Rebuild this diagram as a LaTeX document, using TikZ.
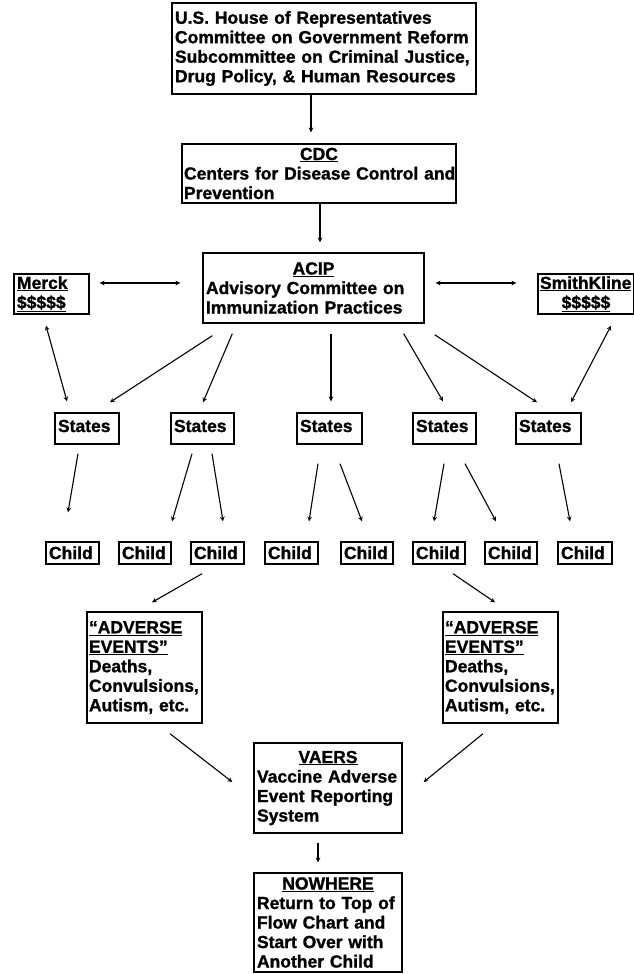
\documentclass[tikz,border=0pt]{standalone}
\usepackage{fontspec}
\setmainfont{Liberation Sans}[BoldFeatures={FakeBold=1.2}]
\usetikzlibrary{calc}

\begin{document}
\begin{tikzpicture}[x=1pt,y=-1pt,
        box/.style={draw,line width=1.4pt,inner xsep=3pt,inner ysep=0pt,align=left,
            font=\fontsize{17.5}{19.5}\selectfont\bfseries},
        small/.style={box,inner ysep=3pt,text depth=#1},
        arr/.style={-stealth,line width=1.1pt},
        dbl/.style={stealth-stealth,line width=1.1pt}]
        \useasboundingbox (0,0) rectangle (634,974);
        %catena in alto
        \node[box,minimum width=304pt,minimum height=91pt,text width=298pt] (house) at (324,48.5)
            {U.S. House of Representatives\\Committee on Government Reform\\Subcommittee on Criminal Justice,\\Drug Policy, \& Human Resources};
        \node[box,inner xsep=2pt,minimum width=274pt,minimum height=59pt,text width=270pt] (cdc) at (319,173.5)
            {\makebox[\linewidth]{\underline{CDC}}\\\mbox{Centers for Disease Control and}\\Prevention};
        \node[box,minimum width=221pt,minimum height=70pt,text width=215pt] (acip) at (313.5,288)
            {\makebox[\linewidth]{\underline{ACIP}}\\Advisory Committee on\\Immunization Practices};
        \node[box,minimum width=75pt,minimum height=40pt,text width=69pt] (merck) at (51.5,294)
            {\underline{Merck}\\\underline{\$\$\$\$\$}};
        \node[box,inner xsep=2pt,minimum width=96pt,minimum height=40pt,text width=92pt] (smith) at (586,294)
            {\underline{SmithKline}\\\makebox[\linewidth]{\underline{\$\$\$\$\$}}};
        %stati
        \foreach \n/\x/\w in {1/87/64,2/202.5/63,3/329.5/65,4/444.5/63,5/548.5/65}
            \node[small=9pt,text height=16pt,minimum width=\w pt,text width=\w pt-6pt] (s\n) at (\x,428.5) {States};
        %bambini
        \foreach \n/\x/\w in {1/72.5/53,2/145/52,3/217.5/53,4/291.5/53,5/367/52,6/439/52,7/511/52,8/585/54}
            \node[small=2pt,text height=14pt,minimum width=\w pt,text width=\w pt-6pt] (c\n) at (\x,553) {Child};
        %eventi avversi
        \node[box,inner xsep=2pt,minimum width=115pt,minimum height=111pt,text width=111pt] (ae1) at (144.5,667.5)
            {\underline{“ADVERSE}\\\underline{EVENTS”}\\Deaths,\\Convulsions,\\Autism, etc.};
        \node[box,inner xsep=2pt,minimum width=115pt,minimum height=111pt,text width=111pt] (ae2) at (500.5,667.5)
            {\underline{“ADVERSE}\\\underline{EVENTS”}\\Deaths,\\Convulsions,\\Autism, etc.};
        \node[box,minimum width=148pt,minimum height=90pt,text width=142pt] (vaers) at (328,788)
            {\makebox[\linewidth]{\underline{VAERS}}\\Vaccine Adverse\\Event Reporting\\System};
        \node[box,minimum width=148pt,minimum height=99pt,text width=142pt] (nowhere) at (328,922.5)
            {\makebox[\linewidth]{\underline{NOWHERE}}\\Return to Top of\\Flow Chart and\\Start Over with\\Another Child};
        %frecce
        \draw[arr] ($(house.south)+(-13,0)$) -- ($(cdc.north)+(-8,-11)$);
        \draw[arr] ($(cdc.south)+(1,0)$) -- ($(acip.north)+(6.5,-10)$);
        \draw[dbl] ($(merck.east)+(10,-11)$) -- ($(acip.west)+(-22,-5)$);
        \draw[dbl] ($(acip.east)+(11,-5)$) -- ($(smith.west)+(-21,-11)$);
        \draw[dbl] ($(merck.south)+(-5.5,11)$) -- ($(s1.north)+(-20,-11)$);
        \draw[dbl] ($(smith.south)+(25,11)$) -- ($(s5.north)+(22.5,-10)$);
        \draw[arr] ($(acip.south west)+(10,12)$) -- ($(s1.north)+(23,-10)$);
        \draw[arr] ($(acip.south west)+(30,10)$) -- ($(s2.north)+(0.5,-10)$);
        \draw[arr] ($(acip.south)+(17.5,10)$) -- ($(s3.north)+(1.5,-11)$);
        \draw[arr] ($(acip.south east)+(-21,10)$) -- ($(s4.north)+(-1.5,-11)$);
        \draw[arr] ($(acip.south east)+(10,11)$) -- ($(s5.north)+(-11.5,-10)$);
        \draw[arr] ($(s1.south)+(-9,9)$) -- ($(c1.north)+(-4.5,-29)$);
        \draw[arr] ($(s2.south)+(-10.5,9)$) -- ($(c2.north)+(27,-20)$);
        \draw[arr] ($(s2.south)+(9.5,9)$) -- ($(c3.north)+(5.5,-20)$);
        \draw[arr] ($(s3.south)+(-11.5,19)$) -- ($(c4.north)+(17.5,-20)$);
        \draw[arr] ($(s3.south)+(10.5,19)$) -- ($(c5.north)+(-5,-20)$);
        \draw[arr] ($(s4.south)+(-0.5,19)$) -- ($(c6.north)+(-5,-20)$);
        \draw[arr] ($(s4.south)+(20.5,19)$) -- ($(c7.north)+(-15,-20)$);
        \draw[arr] ($(s5.south)+(10.5,19)$) -- ($(c8.north)+(-15,-20)$);
        \draw[arr] ($(c3.south)+(-15.5,9)$) -- ($(ae1.north)+(7.5,-9)$);
        \draw[arr] ($(c6.south)+(14,9)$) -- ($(ae2.north)+(-5.5,-9)$);
        \draw[arr] ($(ae1.south)+(25.5,10)$) -- ($(vaers.west)+(-21,-6)$);
        \draw[arr] ($(ae2.south)+(-17.5,10)$) -- ($(vaers.east)+(21,-6)$);
        \draw[arr] ($(vaers.south)+(-10,9)$) -- ($(nowhere.north)+(-10,-10)$);
    \end{tikzpicture}
\end{document}
